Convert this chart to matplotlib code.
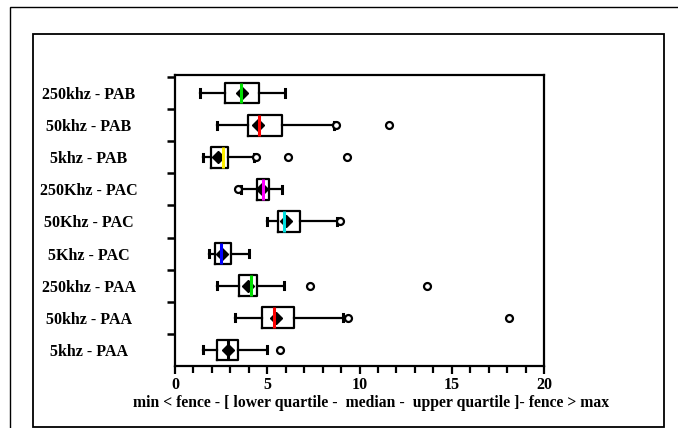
import numpy as np
import matplotlib
matplotlib.use("Agg")
import matplotlib.pyplot as plt
from matplotlib.patches import Rectangle

# top to bottom as in the chart
labels = ["250khz - PAB", "50khz - PAB", "5khz - PAB",
          "250Khz - PAC", "50Khz - PAC", "5Khz - PAC",
          "250khz - PAA", "50khz - PAA", "5khz - PAA"]
whislo = [1.36, 2.29, 1.52, 3.60, 5.00, 1.86, 2.26, 3.25, 1.54]
q1 = [2.70, 3.94, 1.93, 4.46, 5.60, 2.18, 3.49, 4.70, 2.26]
med = [3.56, 4.55, 2.58, 4.79, 5.90, 2.48, 4.10, 5.38, 2.87]
q3 = [4.57, 5.82, 2.89, 5.11, 6.78, 3.02, 4.46, 6.47, 3.41]
whishi = [5.96, 8.60, 4.30, 5.82, 8.76, 4.00, 5.91, 9.09, 5.00]
means = [3.65, 4.50, 2.35, 4.70, 6.00, 2.53, 3.97, 5.50, 2.87]
fliers = [[], [8.75, 11.6], [4.4, 6.14, 9.32], [3.43], [8.94], [],
          [7.32, 13.66], [9.39, 18.1], [5.69]]
med_colors = ["#00e000", "#ff0000", "#ffee00", "#ff00ff", "#00e0e0",
              "#0000ff", "#00e000", "#ff0000", "#000000"]

plt.rcParams['font.family'] = ['Liberation Serif', 'DejaVu Serif']
plt.rcParams['font.weight'] = 'bold'

fig = plt.figure(figsize=(6.78, 4.28), dpi=100)
# frames around the chart
fig.add_artist(Rectangle((10/678, -0.1), 1.2, 1-7/428+0.1, transform=fig.transFigure,
                         fill=False, lw=1.0, ec='black'))
fig.add_artist(Rectangle((33/678, 1-427/428), (664-33)/678, (427-34)/428,
                         transform=fig.transFigure, fill=False, lw=1.3, ec='black'))

ax = fig.add_axes([175/678, 1-366/428, (544-175)/678, (366-75)/428])

n = len(labels)
pos = np.arange(n, 0, -1)
stats = []
for i in range(n):
    stats.append(dict(whislo=whislo[i], q1=q1[i], med=med[i], q3=q3[i],
                      whishi=whishi[i], mean=means[i], fliers=fliers[i],
                      label=labels[i]))

bp = ax.bxp(stats, positions=pos, orientation='horizontal', widths=0.65,
            showmeans=True, capwidths=0.22,
            boxprops=dict(color='black', lw=1.6),
            whiskerprops=dict(color='black', lw=1.6),
            capprops=dict(color='black', lw=2.2),
            meanprops=dict(marker='D', markerfacecolor='black', markeredgecolor='black',
                           markersize=6),
            flierprops=dict(marker='o', markerfacecolor='white', markeredgecolor='black',
                            markersize=5, markeredgewidth=1.6),
            medianprops=dict(lw=2.2))
for line, c in zip(bp['medians'], med_colors):
    line.set_color(c)
    line.set_zorder(4)
for m in bp['means']:
    m.set_zorder(3)

ax.set_xlim(0, 20)
ax.set_ylim(0.5, 9.56)
ax.set_xticks([0, 5, 10, 15, 20])
ax.set_xticks(np.arange(0, 21, 1), minor=True)
ax.set_yticks(pos)
ax.set_yticklabels(labels, ha='center', fontsize=11.5, fontweight='bold')
ax.set_yticks(np.arange(1.5, 10, 1), minor=True)
ax.tick_params(axis='y', which='major', length=0, pad=62)
ax.tick_params(axis='y', which='minor', length=6, width=1.8, pad=2)
ax.tick_params(axis='x', which='major', length=6, width=1.6, labelsize=11.5, pad=2)
ax.tick_params(axis='x', which='minor', length=5, width=1.6)
for s in ax.spines.values():
    s.set_linewidth(1.6)
ax.set_xlabel("min < fence - [ lower quartile -  median -  upper quartile ]- fence > max",
              fontsize=11.3, fontweight='bold')
ax.xaxis.set_label_coords(0.53, -0.098)

fig.savefig("out.png", dpi=100)
